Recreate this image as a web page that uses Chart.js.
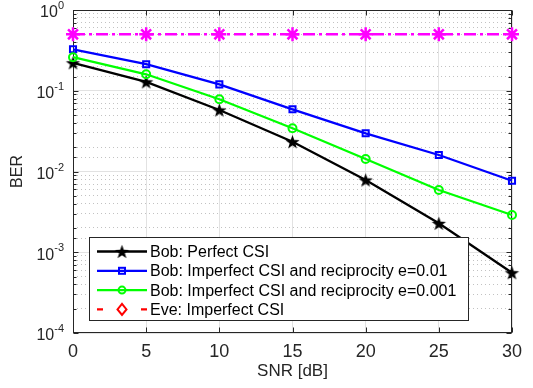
<!DOCTYPE html>
<html>
<head>
<meta charset="utf-8">
<script src="https://cdn.jsdelivr.net/npm/chart.js@4/dist/chart.umd.min.js"></script>
<style>
  html, body { margin: 0; padding: 0; background: #fff; }
  #wrap { width: 533px; height: 388px; }
</style>
</head>
<body>
<div id="wrap"><canvas id="berChart"></canvas></div>
<script>
// SNR points (dB) and BER curves
const snrDb = [0, 5, 10, 15, 20, 25, 30];
const berBobPerfect = [0.222, 0.129, 0.0578, 0.0234, 0.00785, 0.00228, 0.000558];
const berBobE001 = [0.326, 0.213, 0.120, 0.0589, 0.0297, 0.0160, 0.00769];
const berBobE0001 = [0.260, 0.160, 0.0784, 0.0343, 0.0143, 0.0059, 0.00289];
const berEve = [0.5, 0.5, 0.5, 0.5, 0.5, 0.5, 0.5];

const seriesLabels = [
    "Bob: Perfect CSI",
    "Bob: Imperfect CSI and reciprocity e=0.01",
    "Bob: Imperfect CSI and reciprocity e=0.001",
    "Eve: Imperfect CSI"
];
const yTickExponents = [0, -1, -2, -3, -4];
const xTickStep = 5;

const FONT = "'Liberation Sans', Arial, Helvetica, sans-serif";
const AXIS_COLOR = "#262626";

// filled 5-point star (no built-in pentagram in Chart.js)
function makePentagram(outer, inner, color) {
    const size = Math.ceil(outer * 2) + 2;
    const c = document.createElement("canvas");
    c.width = size; c.height = size;
    const g = c.getContext("2d");
    const cx = size / 2, cy = size / 2 + 0.8;
    g.beginPath();
    for (let i = 0; i < 10; i++) {
        const r = i % 2 === 0 ? outer : inner;
        const a = -Math.PI / 2 + i * Math.PI / 5;
        const px = cx + r * Math.cos(a), py = cy + r * Math.sin(a);
        if (i === 0) g.moveTo(px, py); else g.lineTo(px, py);
    }
    g.closePath();
    g.fillStyle = color;
    g.fill();
    return c;
}
const pentagram = makePentagram(7.5, 3, "#000");

const toPoints = vals => snrDb.map((s, i) => ({ x: s, y: vals[i] }));

// legend sample drawing, MATLAB style (line + marker in the middle)
function drawSample(ctx, s, x0, x1, y) {
    ctx.save();
    ctx.strokeStyle = s.color;
    ctx.lineWidth = 2.3;
    ctx.setLineDash(s.dash || []);
    ctx.beginPath();
    ctx.moveTo(x0, y); ctx.lineTo(x1, y);
    ctx.stroke();
    ctx.setLineDash([]);
    ctx.lineWidth = 2;
    const cx = (x0 + x1) / 2;
    if (s.marker === "pentagram") {
        ctx.drawImage(pentagram, cx - pentagram.width / 2, y - pentagram.height / 2);
    } else if (s.marker === "square") {
        ctx.strokeRect(cx - 3, y - 3, 6, 6);
    } else if (s.marker === "circle") {
        ctx.beginPath(); ctx.arc(cx, y, 3.5, 0, Math.PI * 2); ctx.stroke();
    } else if (s.marker === "diamond") {
        ctx.fillStyle = "#fff";
        ctx.beginPath();
        ctx.moveTo(cx, y - 5.5); ctx.lineTo(cx + 4.5, y); ctx.lineTo(cx, y + 5.5); ctx.lineTo(cx - 4.5, y);
        ctx.closePath(); ctx.fill(); ctx.stroke();
    }
    ctx.restore();
}

const axesBox = {
    id: "axesBox",
    beforeDatasetsDraw(chart) {
        const { ctx, chartArea: a, scales: { x, y } } = chart;
        const l = Math.round(a.left) + 0.5, r = Math.round(a.right) - 0.5;
        const t = Math.round(a.top) + 0.5, b = Math.round(a.bottom) - 0.5;
        ctx.save();
        ctx.strokeStyle = AXIS_COLOR;
        ctx.lineWidth = 1;
        ctx.strokeRect(l, t, r - l, b - t);
        ctx.beginPath();
        x.ticks.forEach(tk => {
            const px = Math.round(x.getPixelForValue(tk.value)) + 0.5;
            ctx.moveTo(px, b); ctx.lineTo(px, b - 5);
            ctx.moveTo(px, t); ctx.lineTo(px, t + 5);
        });
        y.ticks.forEach(tk => {
            const py = Math.round(y.getPixelForValue(tk.value)) + 0.5;
            const len = tk.major ? 5 : 3;
            ctx.moveTo(l, py); ctx.lineTo(l + len, py);
            ctx.moveTo(r, py); ctx.lineTo(r - len, py);
        });
        ctx.stroke();
        ctx.restore();
    },
    afterDraw(chart) {
        const { ctx, chartArea: a, scales: { y } } = chart;
        ctx.save();
        // y tick labels as 10^n
        ctx.fillStyle = AXIS_COLOR;
        ctx.textBaseline = "middle";
        yTickExponents.forEach(e => {
            const py = y.getPixelForValue(Math.pow(10, e));
            const exp = String(e);
            ctx.font = "11px " + FONT;
            const ew = ctx.measureText(exp).width;
            const xr = a.left - 9;
            ctx.textAlign = "left";
            ctx.fillText(exp, xr - ew, py - 4);
            ctx.font = "16px " + FONT;
            ctx.textAlign = "right";
            ctx.fillText("10", xr - ew, py + 3);
        });

        // legend box inside the axes, lower left
        const bx = a.left + 16, by = a.bottom - 96;
        const bw = 379, bh = 83;
        ctx.fillStyle = "#fff";
        ctx.fillRect(bx, by, bw, bh);
        ctx.strokeStyle = AXIS_COLOR;
        ctx.lineWidth = 1;
        ctx.strokeRect(bx + 0.5, by + 0.5, bw, bh);
        ctx.font = "16px " + FONT;
        ctx.textAlign = "left";
        ctx.textBaseline = "middle";
        chart.data.datasets.forEach((ds, i) => {
            const ry = by + 14.5 + i * 19.3;
            drawSample(ctx, ds.legendSample, bx + 8, bx + 58, ry);
            ctx.fillStyle = "#000";
            ctx.fillText(ds.label, bx + 61, ry + 1);
        });
        ctx.restore();
    }
};

new Chart(document.getElementById("berChart"), {
    type: "line",
    data: {
        datasets: [
            {
                label: seriesLabels[0],
                data: toPoints(berBobPerfect),
                borderColor: "#000",
                backgroundColor: "#000",
                borderWidth: 2.3,
                pointStyle: pentagram,
                order: 4,
                legendSample: { color: "#000", marker: "pentagram" }
            },
            {
                label: seriesLabels[1],
                data: toPoints(berBobE001),
                borderColor: "#0000ff",
                backgroundColor: "rgba(0,0,0,0)",
                borderWidth: 2.3,
                pointStyle: "rect",
                pointRadius: 4.3,
                pointBorderWidth: 2,
                order: 3,
                legendSample: { color: "#0000ff", marker: "square" }
            },
            {
                label: seriesLabels[2],
                data: toPoints(berBobE0001),
                borderColor: "#00ff00",
                backgroundColor: "rgba(0,0,0,0)",
                borderWidth: 2.3,
                pointStyle: "circle",
                pointRadius: 4,
                pointBorderWidth: 2,
                order: 2,
                legendSample: { color: "#00ff00", marker: "circle" }
            },
            {
                label: seriesLabels[3],
                data: toPoints(berEve),
                borderColor: "#ff00ff",
                backgroundColor: "#ff00ff",
                borderWidth: 2.5,
                borderDash: [12, 4, 3, 4],
                pointStyle: "star",
                pointRadius: 7,
                pointBorderWidth: 2.5,
                order: 1,
                legendSample: { color: "#ff0000", marker: "diamond", dash: [6, 38, 6, 0] }
            }
        ]
    },
    options: {
        responsive: true,
        maintainAspectRatio: false,
        animation: false,
        devicePixelRatio: 1,
        clip: false,
        layout: { padding: { top: 10, right: 21, left: 0, bottom: 0 } },
        plugins: { legend: { display: false }, tooltip: { enabled: false } },
        elements: { line: { tension: 0 } },
        scales: {
            x: {
                type: "linear",
                min: 0,
                max: 30,
                afterFit: s => { s.height = 55; },
                ticks: {
                    stepSize: xTickStep,
                    padding: 8,
                    color: AXIS_COLOR,
                    font: { family: FONT, size: 18 }
                },
                grid: { color: "#e2e2e2", drawTicks: false },
                border: { display: false },
                title: {
                    display: true,
                    text: "SNR [dB]",
                    color: AXIS_COLOR,
                    font: { family: FONT, size: 17 },
                    padding: { top: 0, bottom: 6 }
                }
            },
            y: {
                type: "logarithmic",
                min: 1e-4,
                max: 1,
                afterFit: s => { s.width = 73; },
                ticks: { display: false },
                grid: {
                    drawTicks: false,
                    color: c => (c.tick && c.tick.major) ? "#e2e2e2" : "#c2c2c2"
                },
                border: {
                    display: false,
                    dash: c => (c.tick && !c.tick.major) ? [1, 3] : []
                },
                title: {
                    display: true,
                    text: "BER",
                    color: AXIS_COLOR,
                    font: { family: FONT, size: 16 },
                    padding: { top: 8, bottom: 0 }
                }
            }
        }
    },
    plugins: [axesBox]
});
</script>
</body>
</html>
